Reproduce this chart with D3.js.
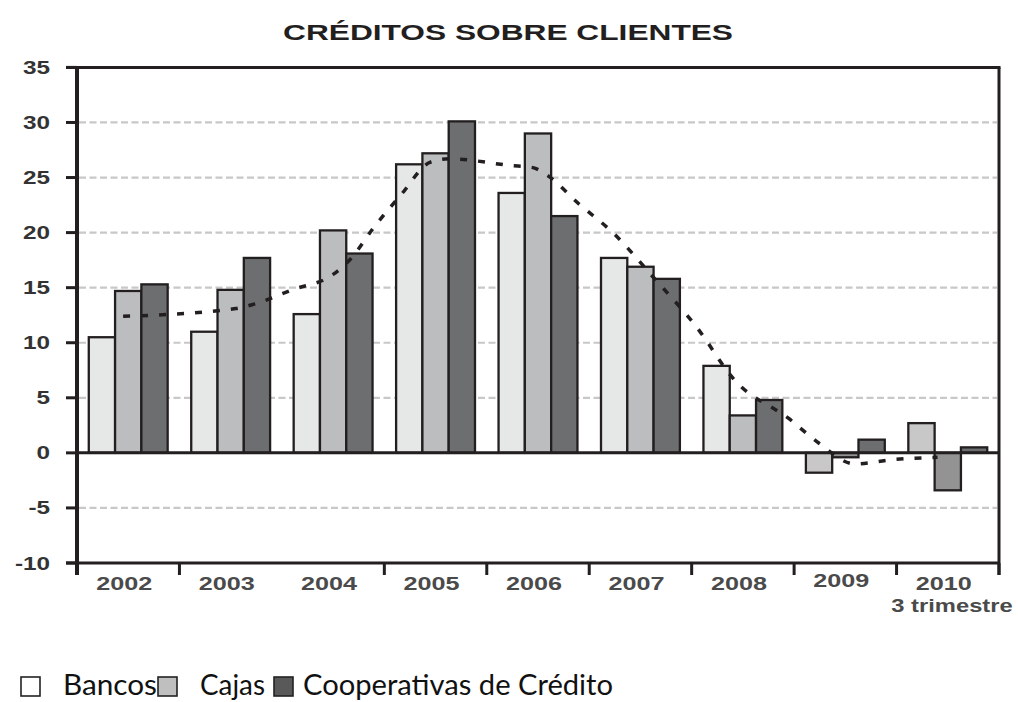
<!DOCTYPE html>
<html>
<head>
<meta charset="utf-8">
<script src="https://cdn.jsdelivr.net/npm/d3@7/dist/d3.min.js"></script>
<style>
  body { margin: 0; background: #fff; }
  svg { display: block; }
</style>
</head>
<body>
<div id="chart"></div>
<script>
// datos
const years = ["2002", "2003", "2004", "2005", "2006", "2007", "2008", "2009", "2010"];
const series = ["Bancos", "Cajas", "Cooperativas de Crédito"];
const bancos = [10.5, 11.0, 12.6, 26.2, 23.6, 17.7, 7.9, -1.8, 2.7];
const cajas = [14.7, 14.8, 20.2, 27.2, 29.0, 16.9, 3.4, -0.4, -3.4];
const coop = [15.3, 17.7, 18.1, 30.1, 21.5, 15.8, 4.8, 1.2, 0.5];
const yTicks = [35, 30, 25, 20, 15, 10, 5, 0, -5, -10];
// línea de tendencia: posición en unidades de categoría, valor
const trendPos = [0.45, 1.55, 1.76, 2.10, 2.50, 2.67, 2.90, 3.16, 3.45, 3.63, 4.23, 4.45, 4.59, 4.90, 5.23, 5.63, 6.05, 6.42, 6.95, 7.24, 7.59, 7.98, 8.40];
const trendVal = [12.4, 13.1, 13.6, 14.8, 16.2, 17.6, 20.5, 23.4, 26.4, 26.7, 26.1, 25.9, 25.2, 22.6, 20.0, 15.9, 11.4, 6.6, 3.1, 0.9, -1.0, -0.6, -0.4];

const width = 1018;
const height = 702;
const mLeft = 77, mRight = 999, mTop = 67.4, mBottom = 563;
const ink = '#231f20';
const fills = ['#e6e7e7', '#bcbdbf', '#6d6e70'];
const lateFills = ['#c8c8c8', '#939393', '#6d6e70']; // 2009 y 2010 salen en otros grises
const legendFills = ['#ffffff', '#bfbfbf', '#595959'];

const values = [bancos, cajas, coop];

const svg = d3.select('#chart').append('svg')
    .attr('width', width)
    .attr('height', height);

const x = d3.scaleBand()
    .domain(years)
    .range([mLeft, mRight])
    .paddingInner(0.23)
    .paddingOuter(0.115);

const xs = d3.scaleBand()
    .domain(d3.range(series.length))
    .range([0, x.bandwidth()]);

const xLin = d3.scaleLinear().domain([0, years.length]).range([mLeft, mRight]);

const y = d3.scaleLinear().domain([-10, 35]).range([mBottom, mTop]);

// rejilla
svg.append('g')
    .selectAll('line')
    .data(yTicks.filter(d => d !== 0 && d !== 35 && d !== -10))
    .enter()
    .append('line')
    .attr('x1', mLeft + 2)
    .attr('x2', mRight - 2)
    .attr('y1', d => y(d))
    .attr('y2', d => y(d))
    .attr('stroke', '#c8c8c8')
    .attr('stroke-width', 2.2)
    .attr('stroke-dasharray', '7,3.5');

// barras
const bars = [];
years.forEach(function (yr, i) {
    values.forEach(function (arr, s) {
        bars.push({year: yr, i: i, s: s, v: arr[i]});
    });
});

svg.append('g')
    .selectAll('rect')
    .data(bars)
    .enter()
    .append('rect')
    .attr('x', d => x(d.year) + xs(d.s))
    .attr('width', xs.bandwidth())
    .attr('y', d => y(Math.max(0, d.v)))
    .attr('height', d => Math.abs(y(d.v) - y(0)))
    .attr('fill', d => (d.i >= 7 ? lateFills : fills)[d.s])
    .attr('stroke', ink)
    .attr('stroke-width', 2.3);

// tendencia
const trend = trendPos.map((p, i) => [p, trendVal[i]]);
svg.append('path')
    .datum(trend)
    .attr('fill', 'none')
    .attr('stroke', ink)
    .attr('stroke-width', 3.5)
    .attr('stroke-dasharray', '7,11')
    .attr('d', d3.line()
        .x(d => xLin(d[0]))
        .y(d => y(d[1]))
        .curve(d3.curveMonotoneX));

// línea de cero
svg.append('line')
    .attr('x1', mLeft).attr('x2', mRight)
    .attr('y1', y(0)).attr('y2', y(0))
    .attr('stroke', ink).attr('stroke-width', 3);

// marco: arriba, derecha, eje x
svg.append('line')
    .attr('x1', 66).attr('x2', mRight + 1.5)
    .attr('y1', mTop).attr('y2', mTop)
    .attr('stroke', ink).attr('stroke-width', 3);
svg.append('line')
    .attr('x1', mRight).attr('x2', mRight)
    .attr('y1', mTop).attr('y2', 575)
    .attr('stroke', ink).attr('stroke-width', 3);
svg.append('line')
    .attr('x1', 66).attr('x2', mRight)
    .attr('y1', mBottom).attr('y2', mBottom)
    .attr('stroke', ink).attr('stroke-width', 3);

// eje y
svg.append('line')
    .attr('x1', mLeft).attr('x2', mLeft)
    .attr('y1', mTop - 1.5).attr('y2', 575)
    .attr('stroke', ink).attr('stroke-width', 4);

svg.append('g')
    .selectAll('line')
    .data(yTicks)
    .enter()
    .append('line')
    .attr('x1', 66).attr('x2', mLeft)
    .attr('y1', d => y(d)).attr('y2', d => y(d))
    .attr('stroke', ink).attr('stroke-width', 3);

svg.append('g')
    .selectAll('g')
    .data(yTicks)
    .enter()
    .append('g')
    .attr('transform', d => 'translate(50,' + (y(d) + 6.5) + ') scale(1.35,1)')
    .append('text')
    .attr('text-anchor', 'end')
    .attr('font-family', 'Liberation Sans, Arial, sans-serif')
    .attr('font-weight', 'bold')
    .attr('font-size', 18)
    .attr('fill', '#333')
    .text(d => d);

// marcas del eje x (falta la de 2003/2004 en el original)
const xTickIdx = [0, 1, 3, 4, 5, 6, 7, 8, 9];
svg.append('g')
    .selectAll('line')
    .data(xTickIdx)
    .enter()
    .append('line')
    .attr('x1', d => xLin(d)).attr('x2', d => xLin(d))
    .attr('y1', mBottom).attr('y2', 575)
    .attr('stroke', ink).attr('stroke-width', 3);

svg.append('g')
    .selectAll('g')
    .data(years)
    .enter()
    .append('g')
    .attr('transform', d => 'translate(' + (x(d) + x.bandwidth() / 2 - 4) + ',' + (d === '2009' ? 587 : 590) + ') scale(1.4,1)')
    .append('text')
    .attr('text-anchor', 'middle')
    .attr('font-family', 'Liberation Sans, Arial, sans-serif')
    .attr('font-weight', 'bold')
    .attr('font-size', 18)
    .attr('fill', '#4a4a4a')
    .text(d => d);

svg.append('g')
    .attr('transform', 'translate(952,612) scale(1.32,1)')
    .append('text')
    .attr('text-anchor', 'middle')
    .attr('font-family', 'Liberation Sans, Arial, sans-serif')
    .attr('font-weight', 'bold')
    .attr('font-size', 18)
    .attr('fill', '#4a4a4a')
    .text('3 trimestre');

// título
svg.append('text')
    .attr('x', 283)
    .attr('y', 40)
    .attr('font-family', 'Liberation Sans, Arial, sans-serif')
    .attr('font-weight', 'bold')
    .attr('font-size', 22)
    .attr('fill', ink)
    .attr('textLength', 450)
    .attr('lengthAdjust', 'spacingAndGlyphs')
    .text('CRÉDITOS SOBRE CLIENTES');

// leyenda
const legBoxX = [21, 158, 274];
const legTextX = [63, 200, 303];
const legTextW = [94, 65, 310];
const leg = svg.append('g');
series.forEach(function (name, i) {
    leg.append('rect')
        .attr('x', legBoxX[i]).attr('y', 677)
        .attr('width', 19).attr('height', 19)
        .attr('fill', legendFills[i])
        .attr('stroke', '#222')
        .attr('stroke-width', 1.6);
    leg.append('text')
        .attr('x', legTextX[i])
        .attr('y', 695)
        .attr('font-family', 'Lato, Open Sans, sans-serif')
        .attr('font-size', 28)
        .attr('fill', '#111')
        .attr('textLength', legTextW[i])
        .attr('lengthAdjust', 'spacingAndGlyphs')
        .text(name);
});
</script>
</body>
</html>
